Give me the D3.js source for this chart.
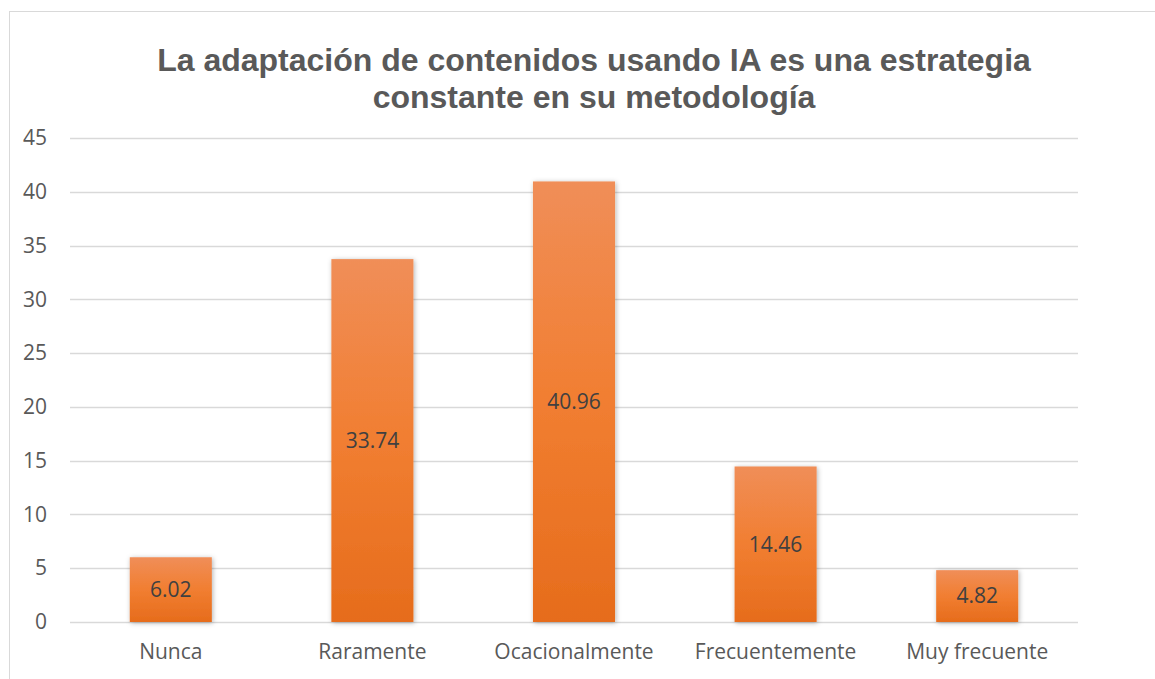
<!DOCTYPE html>
<html><head><meta charset="utf-8">
<script src="https://cdn.jsdelivr.net/npm/d3@7"></script>
<style>body{margin:0;background:#fff;}svg{display:block;}</style>
</head><body>
<svg id="c" width="1155" height="679"></svg>
<script>
const categories = ["Nunca","Raramente","Ocacionalmente","Frecuentemente","Muy frecuente"];
const values = [6.02, 33.74, 40.96, 14.46, 4.82];
const yTicks = [0,5,10,15,20,25,30,35,40,45];
const titleLines = ["La adaptación de contenidos usando IA es una estrategia","constante en su metodología"];

const svg = d3.select("#c");
const W = 1155, H = 679;
const plot = {left:70, right:1078, top:138, bottom:622};
const font = "'Open Sans', Lato, sans-serif";

const defs = svg.append("defs");
const grad = defs.append("linearGradient").attr("id","bg").attr("x1",0).attr("y1",0).attr("x2",0).attr("y2",1);
grad.append("stop").attr("offset","0%").attr("stop-color","#F08E58");
grad.append("stop").attr("offset","50%").attr("stop-color","#F17E31");
grad.append("stop").attr("offset","100%").attr("stop-color","#E66C1C");
const f = defs.append("filter").attr("id","sh").attr("x","-20%").attr("y","-20%").attr("width","140%").attr("height","140%");
f.append("feDropShadow").attr("dx",1).attr("dy",1).attr("stdDeviation",2.5).attr("flood-color","#000").attr("flood-opacity",0.3);

// chart border
svg.append("rect").attr("x",9.5).attr("y",11.5).attr("width",W).attr("height",H).attr("fill","none").attr("stroke","#d9d9d9").attr("stroke-width",1);

const x = d3.scaleBand().domain(categories).range([plot.left, plot.right]).paddingInner(0.593).paddingOuter(0.2965);
const y = d3.scaleLinear().domain([0,45]).range([plot.bottom, plot.top]);

// gridlines
svg.append("g").selectAll("line").data(yTicks).join("line")
  .attr("x1",plot.left).attr("x2",plot.right)
  .attr("y1",d=>Math.round(y(d))+0.5).attr("y2",d=>Math.round(y(d))+0.5)
  .attr("stroke","#d9d9d9").attr("stroke-width",1.5);

// y axis labels
const yAxis = d3.axisLeft(y).tickValues(yTicks).tickSize(0).tickPadding(0);
const ga = svg.append("g").attr("transform",`translate(47,0)`).call(yAxis);
ga.select(".domain").remove();
ga.selectAll("text").attr("font-family",font).attr("font-size",21).attr("fill","#595959");

// bars
svg.append("g").selectAll("rect").data(values).join("rect")
  .attr("x",(d,i)=>x(categories[i])).attr("width",x.bandwidth())
  .attr("y",d=>y(d)).attr("height",d=>y(0)-y(d))
  .attr("fill","url(#bg)").attr("filter","url(#sh)");

// data labels
svg.append("g").selectAll("text").data(values).join("text")
  .attr("x",(d,i)=>x(categories[i])+x.bandwidth()/2)
  .attr("y",d=>(y(d)+y(0))/2)
  .attr("dy","0.35em").attr("text-anchor","middle")
  .attr("font-family",font).attr("font-size",21).attr("fill","#404040")
  .text(d=>d.toFixed(2));

// x axis labels
const xAxis = d3.axisBottom(x).tickSize(0).tickPadding(0);
const gx = svg.append("g").attr("transform",`translate(0,${plot.bottom+22})`).call(xAxis);
gx.select(".domain").remove();
gx.selectAll("text").attr("font-family",font).attr("font-size",21).attr("fill","#595959");

// title
svg.append("g").selectAll("text").data(titleLines).join("text")
  .attr("x",594).attr("y",(d,i)=>71+i*37).attr("text-anchor","middle")
  .attr("font-family","'Liberation Sans', Arial, sans-serif").attr("font-weight","bold")
  .attr("font-size",32).attr("fill","#595959").text(d=>d);
</script>
</body></html>
